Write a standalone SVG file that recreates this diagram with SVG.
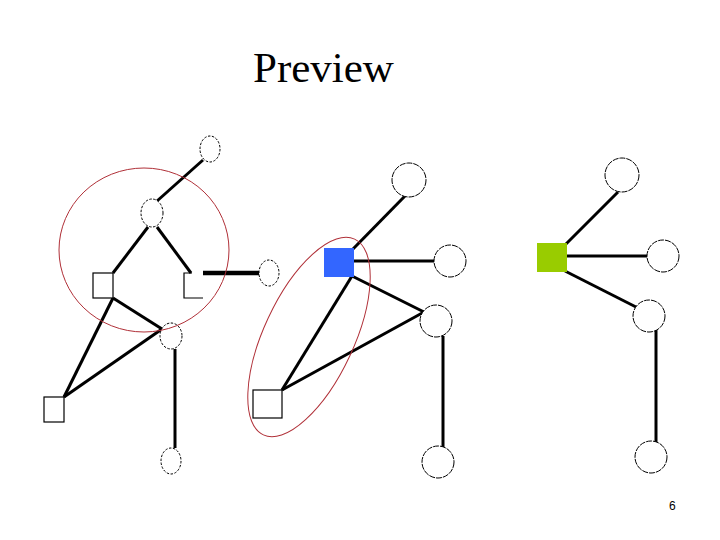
<svg xmlns="http://www.w3.org/2000/svg" width="720" height="540" viewBox="0 0 720 540">
<style>
.e{stroke:#000;stroke-width:3;fill:none}
.t{stroke:#000;stroke-width:4.5;fill:none}
.n{fill:#fff;stroke:#000;stroke-width:1;stroke-dasharray:6 1}
.d{fill:#fff;stroke:#000;stroke-width:1;stroke-dasharray:2.5 1.5}
.s{fill:#fff;stroke:#000;stroke-width:1.2}
.r{fill:none;stroke:#b03038;stroke-width:1}
</style>
<rect width="720" height="540" fill="#fff"/>
<text x="253" y="82" font-family="Liberation Serif, serif" font-size="43" fill="#000">Preview</text>
<text x="669" y="510" font-family="Liberation Sans, sans-serif" font-size="12" fill="#000">6</text>
<g id="connectors">
<line class="e" x1="203" y1="160" x2="157" y2="201"/>
<line class="e" x1="148" y1="227" x2="113" y2="273"/>
<line class="e" x1="157" y1="227" x2="191" y2="273"/>
<line class="t" x1="203" y1="273" x2="259" y2="273"/>
<line class="e" x1="113" y1="298" x2="162" y2="329"/>
<line class="e" x1="113" y1="298" x2="64" y2="397"/>
<line class="e" x1="64" y1="397" x2="162" y2="329"/>
<line class="e" x1="175" y1="349" x2="175" y2="448"/>
<line class="e" x1="353" y1="249" x2="405" y2="196"/>
<line class="e" x1="354" y1="261" x2="434" y2="261"/>
<line class="e" x1="352" y1="276" x2="424" y2="312"/>
<line class="e" x1="352" y1="276" x2="282" y2="390"/>
<line class="e" x1="282" y1="390" x2="424" y2="312"/>
<line class="e" x1="443" y1="336" x2="443" y2="447"/>
<line class="e" x1="565" y1="245" x2="618" y2="192"/>
<line class="e" x1="567" y1="256" x2="647" y2="256"/>
<line class="e" x1="565" y1="271" x2="636" y2="307"/>
<line class="e" x1="656" y1="330" x2="656" y2="443"/>
</g>
<g id="n1"><ellipse class="d" cx="210" cy="149" rx="10" ry="13"/></g>
<g id="n2"><ellipse class="d" cx="152" cy="213" rx="11" ry="14"/></g>
<g id="n3"><rect class="s" x="93" y="273" width="20" height="25"/></g>
<g id="n4"><path d="M203,298H184V273H192" fill="none" stroke="#000" stroke-width="1.2"/></g>
<g id="n5"><ellipse class="d" cx="269" cy="273" rx="10" ry="13"/></g>
<g id="n6"><ellipse class="d" cx="171" cy="336" rx="11" ry="13"/></g>
<g id="n7"><ellipse class="d" cx="171" cy="461" rx="10" ry="13"/></g>
<g id="n8"><rect class="s" x="44" y="397" width="20" height="25"/></g>
<g id="m1"><circle class="n" cx="409" cy="180" r="17"/></g>
<g id="m2"><rect x="324" y="248" width="30" height="29" fill="#3366ff"/></g>
<g id="m3"><circle class="n" cx="450" cy="261" r="16"/></g>
<g id="m4"><circle class="n" cx="436" cy="321" r="16"/></g>
<g id="m5"><circle class="n" cx="438" cy="462" r="16"/></g>
<g id="m6"><rect class="s" x="253" y="390" width="29" height="28"/></g>
<g id="g1"><circle class="n" cx="622" cy="175" r="17"/></g>
<g id="g2"><rect x="537" y="243" width="30" height="29" fill="#99cc00"/></g>
<g id="g3"><circle class="n" cx="663" cy="256" r="16"/></g>
<g id="g4"><circle class="n" cx="649" cy="316" r="16"/></g>
<g id="g5"><circle class="n" cx="651" cy="457" r="16"/></g>
<g id="highlights">
<ellipse class="r" cx="144" cy="250" rx="85" ry="82"/>
<ellipse class="r" cx="309" cy="337" rx="108" ry="45" transform="rotate(-65 309 337)"/>
</g>
</svg>
